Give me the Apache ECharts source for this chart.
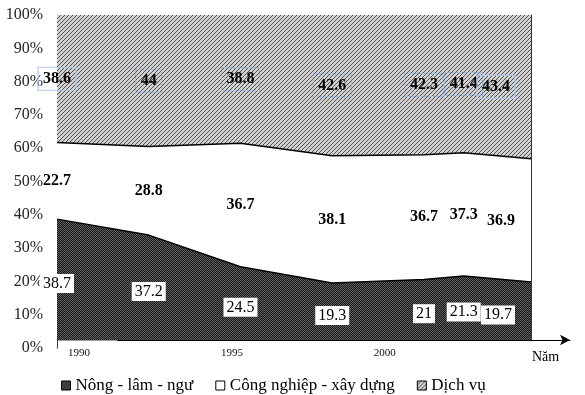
<!DOCTYPE html>
<html><head><meta charset="utf-8">
<script src="https://cdn.jsdelivr.net/npm/echarts@6/dist/echarts.min.js"></script>
<style>html,body{margin:0;padding:0;background:#fff}#c{width:585px;height:395px}</style>
</head><body><div id="c"></div>
<script>
// x positions (years)
const years = [1990, 1993, 1996, 1999, 2002, 2003.3, 2005.5];
// area shares (%)
const agri = [38.7, 33.9, 24.4, 19.5, 20.6, 21.6, 19.8];
const industry = [23.0, 26.6, 37.1, 38.2, 37.4, 37.0, 37.0];
const services = [38.3, 39.5, 38.5, 42.3, 42.0, 41.4, 43.2];
// printed data labels
const agriLabels = ['38.7', '37.2', '24.5', '19.3', '21', '21.3', '19.7'];
const industryLabels = ['22.7', '28.8', '36.7', '38.1', '36.7', '37.3', '36.9'];
const servicesLabels = ['38.6', '44', '38.8', '42.6', '42.3', '41.4', '43.4'];
const tickYears = [1990, 1995, 2000];
const seriesNames = ['Nông - lâm - ngư', 'Công nghiệp - xây dựng', 'Dịch vụ'];
const axisName = 'Năm';

const FONT = '"Liberation Serif", "Times New Roman", serif';

function makePattern(size, bg, fg, pts) {
  const c = document.createElement('canvas');
  c.width = c.height = size;
  const g = c.getContext('2d');
  g.fillStyle = bg; g.fillRect(0, 0, size, size);
  g.fillStyle = fg;
  pts.forEach(p => g.fillRect(p[0], p[1], 1, 1));
  return { image: c, repeat: 'repeat' };
}
const hatch = makePattern(4, '#d2d2d2', '#4e4e4e', [[0,3],[1,2],[2,1],[3,0]]);
const dark = makePattern(2, '#161616', '#626262', [[0,0],[1,1]]);
const fills = [dark, '#ffffff', hatch];

// cumulative tops of each band (painted back to front)
const cumAgri = agri.slice();
const cumIndustry = agri.map((v, j) => v + industry[j]);
const cumServices = cumIndustry.map((v, j) => v + services[j]);
const tops = [cumAgri, cumIndustry, cumServices];

const bandSeries = [2, 1, 0].map(i => ({
  name: seriesNames[i], type: 'line', symbol: 'none',
  xAxisIndex: 0, yAxisIndex: 0,
  data: years.map((y, j) => [y, tops[i][j]]),
  lineStyle: { color: '#000', width: i < 2 ? 1.5 : 0 },
  itemStyle: { color: '#000' },
  areaStyle: { color: fills[i], opacity: 1, origin: 'start' },
  silent: true, z: 2
}));

// label positions: middle of each band
const mids = [
  agri.map(v => v / 2),
  agri.map((v, j) => v + industry[j] / 2),
  cumIndustry.map((v, j) => v + services[j] / 2)
];
const labelTexts = [agriLabels, industryLabels, servicesLabels];
const labelStyles = [
  { fontFamily: FONT, fontSize: 16, color: '#000', backgroundColor: '#ffffff', padding: [2, 3, 1, 3] },
  { fontFamily: FONT, fontSize: 16, fontWeight: 'bold', color: '#000' },
  { fontFamily: FONT, fontSize: 16, fontWeight: 'bold', color: '#000', borderColor: '#7fa7dc', borderWidth: 1.2, borderType: 'dotted', padding: [4, 5, 3, 5] }
];
const labelSeries = mids.map((m, i) => ({
  type: 'scatter', symbolSize: 0, silent: true, z: 4,
  xAxisIndex: 0, yAxisIndex: 0,
  itemStyle: { color: '#000', opacity: 1 },
  data: years.map((y, j) => {
    const item = { value: [y, m[j]] };
    const extra = {};
    if (j === years.length - 1) { extra.position = 'left'; extra.distance = 16; }
    if (i === 2 && (j === 0 || j === years.length - 1)) { extra.borderType = 'solid'; extra.borderColor = '#b3c8ea'; }
    item.label = extra;
    return item;
  }),
  label: Object.assign({ show: true, position: 'inside', formatter: p => labelTexts[i][p.dataIndex] }, labelStyles[i])
}));

const chart = echarts.init(document.getElementById('c'), null, { renderer: 'canvas' });
chart.setOption({
  animation: false,
  backgroundColor: '#fff',
  grid: [
    { left: 57, right: 54, top: 15, bottom: 47 },
    { left: 118, right: 15, top: 300, bottom: 55 }
  ],
  legend: {
    left: 56, top: 372, icon: 'rect', itemWidth: 9, itemHeight: 9, itemGap: 22,
    textStyle: { fontFamily: FONT, fontSize: 17, color: '#000' },
    data: seriesNames.map((n, i) => ({ name: n, itemStyle: { color: fills[i], borderColor: '#000', borderWidth: 1 } })),
    selectedMode: false
  },
  xAxis: [
    { gridIndex: 0, type: 'value', min: years[0], max: years[years.length - 1], z: 10,
      axisLine: { show: false }, axisTick: { show: false }, splitLine: { show: false },
      axisLabel: { customValues: tickYears, formatter: v => String(v), fontFamily: FONT, fontSize: 11, color: '#111', margin: 0,
        padding: [0, 0, 0, 44], showMinLabel: true, hideOverlap: false } },
    { gridIndex: 0, type: 'value', position: 'top', min: years[0], max: years[years.length - 1],
      axisLine: { show: true, lineStyle: { color: '#8c8c8c', width: 1 } }, axisTick: { show: false },
      axisLabel: { show: false }, splitLine: { show: false } },
    { gridIndex: 1, type: 'value', min: 0, max: 1, z: 10,
      axisLine: { show: true, lineStyle: { color: '#000', width: 1.2 }, symbol: ['none', 'arrow'], symbolSize: [8, 10] },
      axisTick: { show: false }, axisLabel: { show: false }, splitLine: { show: false },
      name: axisName, nameLocation: 'end', nameGap: -38,
      nameTextStyle: { fontFamily: FONT, fontSize: 14, color: '#000', verticalAlign: 'top', padding: [10, 0, 0, 0] } }
  ],
  yAxis: [
    { gridIndex: 0, type: 'value', min: 0, max: 100, interval: 10,
      axisLine: { show: true, lineStyle: { color: '#8c8c8c', width: 1 } }, axisTick: { show: false },
      splitLine: { show: false },
      axisLabel: { formatter: '{value}%', fontFamily: FONT, fontSize: 16, color: '#222', margin: 14 } },
    { gridIndex: 0, type: 'value', position: 'right', min: 0, max: 100,
      axisLine: { show: true, lineStyle: { color: '#333', width: 1 } }, axisTick: { show: false },
      axisLabel: { show: false }, splitLine: { show: false } },
    { gridIndex: 1, type: 'value', show: false }
  ],
  graphic: [
    { type: 'rect', z: 5, silent: true, shape: { x: 58, y: 340.5, width: 475, height: 9 }, style: { fill: '#fff' } }
  ],
  series: bandSeries.concat(labelSeries)
});
</script></body></html>
